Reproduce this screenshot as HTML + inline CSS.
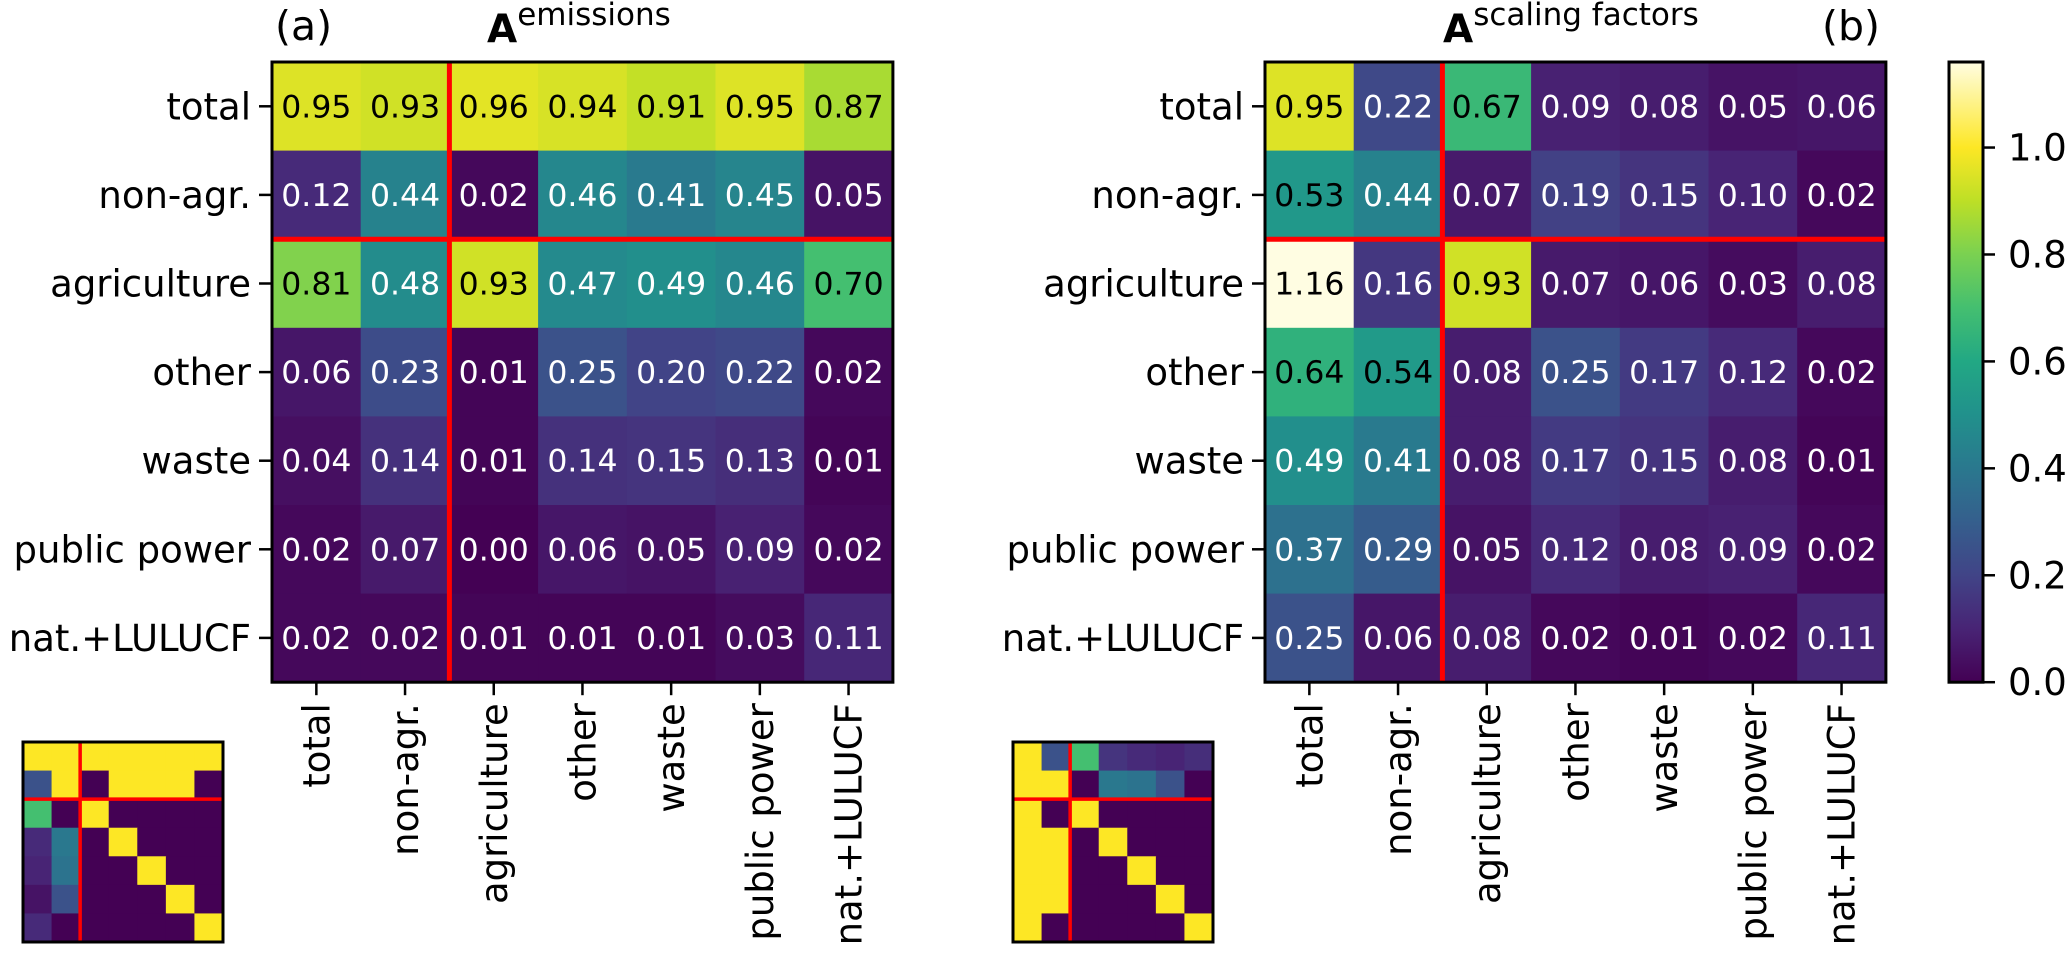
<!DOCTYPE html>
<html><head><meta charset="utf-8"><style>
html,body{margin:0;padding:0;background:#fff}
svg{display:block}
text{font-family:"DejaVu Sans","Liberation Sans",sans-serif}
</style></head><body>
<svg id="fig" width="2067" height="955" viewBox="0 0 2067 955" xmlns="http://www.w3.org/2000/svg">
<text x="275" y="40" font-size="41">(a)</text>
<text x="487" y="42" font-size="39" font-weight="bold">A<tspan dy="-17" font-size="31" font-weight="normal">emissions</tspan></text>
<text x="1443" y="42" font-size="39" font-weight="bold">A<tspan dy="-17" font-size="31" font-weight="normal">scaling factors</tspan></text>
<text x="1822" y="40" font-size="41">(b)</text>
</svg>
<script>
const categories = ["total","non-agr.","agriculture","other","waste","public power","nat.+LULUCF"];
const emissionsValues = [
 [0.95,0.93,0.96,0.94,0.91,0.95,0.87],
 [0.12,0.44,0.02,0.46,0.41,0.45,0.05],
 [0.81,0.48,0.93,0.47,0.49,0.46,0.70],
 [0.06,0.23,0.01,0.25,0.20,0.22,0.02],
 [0.04,0.14,0.01,0.14,0.15,0.13,0.01],
 [0.02,0.07,0.00,0.06,0.05,0.09,0.02],
 [0.02,0.02,0.01,0.01,0.01,0.03,0.11]];
const scalingValues = [
 [0.95,0.22,0.67,0.09,0.08,0.05,0.06],
 [0.53,0.44,0.07,0.19,0.15,0.10,0.02],
 [1.16,0.16,0.93,0.07,0.06,0.03,0.08],
 [0.64,0.54,0.08,0.25,0.17,0.12,0.02],
 [0.49,0.41,0.08,0.17,0.15,0.08,0.01],
 [0.37,0.29,0.05,0.12,0.08,0.09,0.02],
 [0.25,0.06,0.08,0.02,0.01,0.02,0.11]];
const thumbEmissions = [
 [1,1,1,1,1,1,1],
 [0.25,1,0,1,1,1,0],
 [0.7,0,1,0,0,0,0],
 [0.12,0.4,0,1,0,0,0],
 [0.1,0.38,0,0,1,0,0],
 [0.05,0.25,0,0,0,1,0],
 [0.12,0,0,0,0,0,1]];
const thumbScaling = [
 [1,0.25,0.7,0.15,0.12,0.1,0.13],
 [1,1,0,0.4,0.38,0.25,0],
 [1,0,1,0,0,0,0],
 [1,1,0,1,0,0,0],
 [1,1,0,0,1,0,0],
 [1,1,0,0,0,1,0],
 [1,0,0,0,0,0,1]];
const colorbarTicks = [0.0,0.2,0.4,0.6,0.8,1.0];
const vmax = 1.16;

const NS="http://www.w3.org/2000/svg";
const svg=document.getElementById('fig');
function mk(tag,attrs,parent){const e=document.createElementNS(NS,tag);for(const k in attrs)e.setAttribute(k,attrs[k]);(parent||svg).appendChild(e);return e;}

const stops=[[0,'#440154'],[0.1,'#482475'],[0.2,'#414487'],[0.3,'#355f8d'],[0.4,'#2a788e'],[0.5,'#21918c'],[0.6,'#22a884'],[0.7,'#44bf70'],[0.8,'#7ad151'],[0.9,'#bddf26'],[1.0,'#fde725'],[1.16,'#fffde2']];
function hex(h){return [1,3,5].map(i=>parseInt(h.substr(i,2),16));}
function cmap(v){
  v=Math.max(0,Math.min(vmax,v));
  for(let i=0;i<stops.length-1;i++){
    const [a,ca]=stops[i],[b,cb]=stops[i+1];
    if(v<=b){const t=(v-a)/(b-a);const A=hex(ca),B=hex(cb);
      return 'rgb('+A.map((x,j)=>Math.round(x+(B[j]-x)*t)).join(',')+')';}
  }
  return stops[stops.length-1][1];
}

const gridTop=62, cellH=88.6, cellW=88.7, n=7;
function heatmap(left, values, name){
  const g=mk('g',{});
  
  
  const xs=c=>left+c*cellW, ys=r=>gridTop+r*cellH;
  values.forEach((row,r)=>row.forEach((v,c)=>{
    const rc=mk('rect',{x:xs(c),y:ys(r),width:cellW+0.6,height:cellH+0.6,fill:cmap(v)},g);
    
    
    const t=mk('text',{x:xs(c)+cellW/2,y:ys(r)+cellH/2+11,'text-anchor':'middle','font-size':31.5,fill:v>0.5?'#000':'#fff'},g);
    t.textContent=v.toFixed(2);
    
    
  }));
  mk('line',{x1:xs(2),x2:xs(2),y1:gridTop,y2:ys(7),stroke:'#ff0000','stroke-width':5},g);
  mk('line',{x1:left,x2:xs(7),y1:ys(2),y2:ys(2),stroke:'#ff0000','stroke-width':5},g);
  mk('rect',{x:left,y:gridTop,width:n*cellW,height:n*cellH,fill:'none',stroke:'#000','stroke-width':3},g);
  categories.forEach((lab,i)=>{
    const cy=ys(i)+cellH/2;
    mk('line',{x1:left-13,x2:left,y1:cy,y2:cy,stroke:'#000','stroke-width':2.5},g);
    const t=mk('text',{x:left-21,y:cy+13,'text-anchor':'end','font-size':37,fill:'#000'},g);
    t.textContent=lab;
    
    
    const cx=xs(i)+cellW/2, by=ys(7);
    mk('line',{x1:cx,x2:cx,y1:by,y2:by+13,stroke:'#000','stroke-width':2.5},g);
    const t2=mk('text',{x:0,y:0,'text-anchor':'end','font-size':37,fill:'#000',transform:'translate('+(cx+13)+','+(by+21)+') rotate(-90)'},g);
    t2.textContent=lab;
    
    
  });
}
heatmap(272, emissionsValues, 'heatmap-emissions');
heatmap(1265, scalingValues, 'heatmap-scaling-factors');

function thumb(left,topY,values,name){
  const g=mk('g',{});
  
  
  const s=200/7;
  values.forEach((row,r)=>row.forEach((v,c)=>{
    mk('rect',{x:left+c*s,y:topY+r*s,width:s+0.5,height:s+0.5,fill:cmap(v)},g);
  }));
  mk('line',{x1:left+2*s,x2:left+2*s,y1:topY,y2:topY+200,stroke:'#ff0000','stroke-width':3.5},g);
  mk('line',{x1:left,x2:left+200,y1:topY+2*s,y2:topY+2*s,stroke:'#ff0000','stroke-width':3.5},g);
  mk('rect',{x:left,y:topY,width:200,height:200,fill:'none',stroke:'#000','stroke-width':3},g);
}
thumb(23,742,thumbEmissions,'thumbnail-emissions');
thumb(1013,742,thumbScaling,'thumbnail-scaling');

const defs=mk('defs',{});
const lg=mk('linearGradient',{id:'cb',x1:0,y1:1,x2:0,y2:0},defs);
stops.forEach(([v,c])=>mk('stop',{offset:v/vmax,'stop-color':c},lg));
const cbL=1949,cbW=34,cbBot=gridTop+n*cellH,cbH=n*cellH;
const cb=mk('g',{});


mk('rect',{x:cbL,y:gridTop,width:cbW,height:cbH,fill:'url(#cb)',stroke:'#000','stroke-width':3},cb);
const cby=v=>cbBot-v/vmax*cbH;
colorbarTicks.forEach(v=>{
  mk('line',{x1:cbL+cbW,x2:cbL+cbW+12,y1:cby(v),y2:cby(v),stroke:'#000','stroke-width':2.5},cb);
  const t=mk('text',{x:cbL+cbW+25,y:cby(v)+13,'font-size':37,fill:'#000'},cb);
  t.textContent=v.toFixed(1);
  
  
});
</script>
</body></html>
